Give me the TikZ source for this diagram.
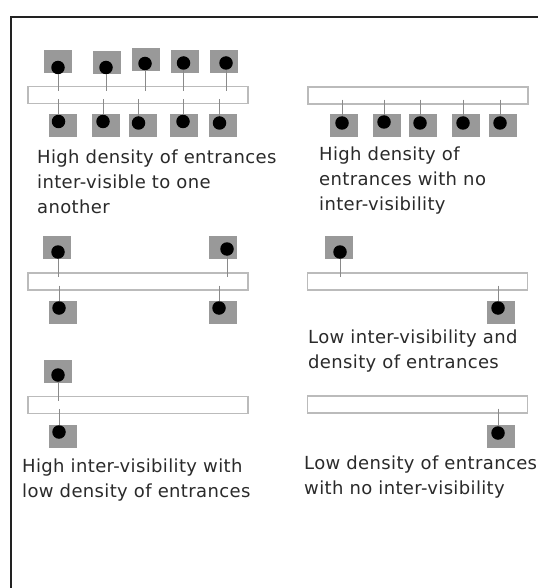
\documentclass[tikz,border=0pt]{standalone}
\usepackage{fontspec}
\setmainfont[LetterSpace=2]{DejaVu Sans}
\usetikzlibrary{calc}

\definecolor{doorgray}{HTML}{999999}
\definecolor{streetedge}{HTML}{BBBBBB}
\definecolor{linkgray}{HTML}{8A8A8A}
\definecolor{framecol}{HTML}{222222}
\definecolor{textcol}{HTML}{2A2A2A}

\tikzset{
  door/.style={rectangle, fill=doorgray, minimum width=28pt, minimum height=23pt, inner sep=0pt},
  knob/.style={circle, fill=black, minimum size=13.5pt, inner sep=0pt},
  street/.style={rectangle, draw=streetedge, line width=1.3pt, fill=white,
                 minimum width=220pt, minimum height=17pt, inner sep=0pt},
  sightline/.style={draw=linkgray, line width=0.9pt},
  caption/.style={anchor=north west, inner sep=0pt, align=left, text=textcol,
                  font=\fontsize{18}{25}\selectfont},
}

% entrance: name, square centre x y, dot centre x y
\newcommand\entrance[5]{%
  \node[door] (s#1) at (#2,#3) {};
  \node[knob] (d#1) at (#4,#5) {};}

\begin{document}
\begin{tikzpicture}[x=1pt,y=-1pt]
\useasboundingbox[fill=white] (0,0) rectangle (538,588);

% frame
\draw[framecol, line width=1.5pt] (11,588) -- (11,17) -- (538,17);

% ---------- high density, inter-visible ----------
\node[street] (bA) at (138,95) {};
\entrance{a1}{57.5}{62}{58}{67.5}
\entrance{a2}{107}{62.5}{106}{67.5}
\entrance{a3}{146}{60}{145}{63.5}
\entrance{a4}{185}{61.5}{183.5}{63}
\entrance{a5}{224}{61.5}{226}{63}
\entrance{a6}{62.5}{125.5}{58.5}{121.5}
\entrance{a7}{106}{125.5}{103}{121.5}
\entrance{a8}{142.5}{125.5}{138.5}{123}
\entrance{a9}{184}{125.5}{183}{121.5}
\entrance{a10}{222.5}{125.5}{219.5}{123}
\foreach \n in {a1,a2,a3,a4,a5}
  \draw[sightline] (d\n.south) -- ($(d\n |- bA.north)+(0,5)$);
\foreach \n in {a6,a7,a8,a9,a10}
  \draw[sightline] ($(d\n |- bA.south)+(0,-5)$) -- (d\n.north);
\node[caption] (tA) at (37,150) {High density of entrances\\inter-visible to one\\another};

% ---------- high density, no inter-visibility ----------
\node[street] (bB) at (418,95.5) {};
\entrance{b1}{343.5}{126}{342}{123}
\entrance{b2}{386.5}{126}{384}{122}
\entrance{b3}{423}{126}{420}{123}
\entrance{b4}{465.5}{126}{463}{123}
\entrance{b5}{503}{126}{500}{123}
\foreach \n in {b1,b2,b3,b4,b5}
  \draw[sightline] ($(d\n |- bB.south)+(0,-5)$) -- (d\n.north);
\node[caption] (tB) at (319,147) {High density of\\entrances with no\\inter-visibility};

% ---------- two pairs facing each other ----------
\node[street] (bC) at (138,281.5) {};
\entrance{c1}{57}{247}{58}{252}
\entrance{c2}{223}{247}{227}{249}
\entrance{c3}{62.5}{312}{59}{308}
\entrance{c4}{222.5}{312}{219}{308}
\foreach \n in {c1,c2}
  \draw[sightline] (d\n.south) -- ($(d\n |- bC.north)+(0,5)$);
\foreach \n in {c3,c4}
  \draw[sightline] ($(d\n |- bC.south)+(0,-5)$) -- (d\n.north);

% ---------- low inter-visibility and density ----------
\node[street] (bD) at (417.5,281.5) {};
\entrance{d1}{339}{247}{340}{252}
\entrance{d2}{501}{312}{498}{308}
\draw[sightline] (dd1.south) -- ($(dd1 |- bD.north)+(0,5)$);
\draw[sightline] ($(dd2 |- bD.south)+(0,-5)$) -- (dd2.north);
\node[caption] (tD) at (308,330) {Low inter-visibility and\\density of entrances};

% ---------- high inter-visibility, low density ----------
\node[street] (bE) at (138,405) {};
\entrance{e1}{58}{371}{58}{375}
\entrance{e2}{62.5}{436}{59}{432}
\draw[sightline] (de1.south) -- ($(de1 |- bE.north)+(0,5)$);
\draw[sightline] ($(de2 |- bE.south)+(0,-5)$) -- (de2.north);
\node[caption] (tE) at (22,459) {High inter-visibility with\\low density of entrances};

% ---------- low density, no inter-visibility ----------
\node[street] (bF) at (417.5,404.5) {};
\entrance{f1}{501}{436.5}{498}{433}
\draw[sightline] ($(df1 |- bF.south)+(0,-5)$) -- (df1.north);
\node[caption] (tF) at (304,456) {Low density of entrances\\with no inter-visibility};
\end{tikzpicture}
\end{document}
